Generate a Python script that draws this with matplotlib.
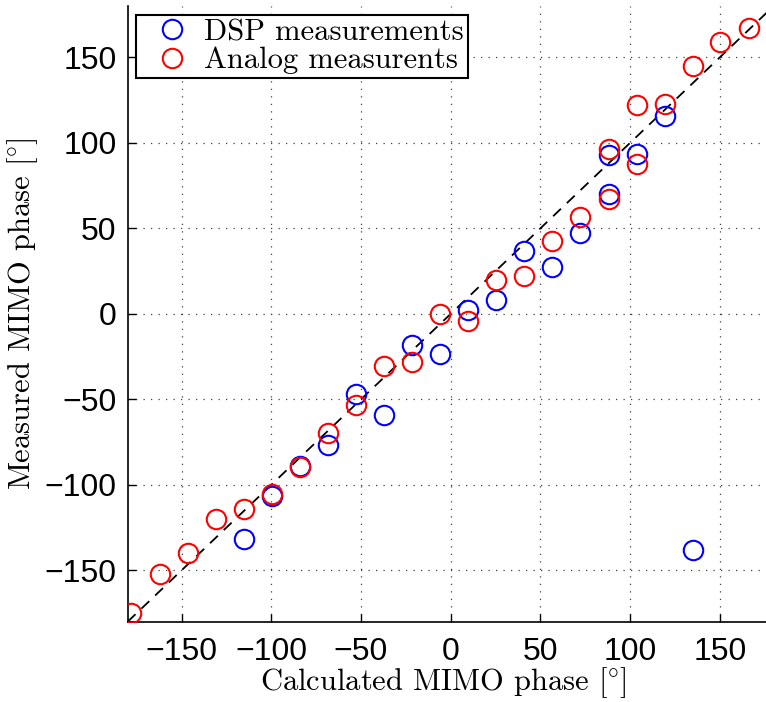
import matplotlib
matplotlib.use("Agg")
import matplotlib.pyplot as plt

# Calculated vs measured MIMO phase (degrees)
dsp_calc = [-115.3, -99.8, -83.9, -68.3, -52.7, -37.1, -21.5, -5.9, 9.7, 25.3,
            40.9, 56.5, 72.0, 88.0, 88.0, 103.6, 119.2, 135.0]
dsp_meas = [-131.9, -106.6, -89.1, -76.8, -47.1, -59.2, -18.3, -23.4, 2.2, 8.0,
            36.5, 27.5, 47.0, 69.8, 92.8, 93.4, 115.8, -138.2]

analog_calc = [-178.0, -162.2, -146.6, -131.0, -115.3, -99.8, -83.9, -68.3, -52.7,
               -37.1, -21.5, -5.9, 9.7, 25.3, 40.9, 56.5, 72.0, 88.0, 88.0,
               103.6, 103.6, 119.2, 135.0, 150.3, 166.1]
analog_meas = [-174.8, -152.4, -140.1, -120.0, -114.2, -105.4, -89.6, -69.9, -53.4,
               -30.2, -28.1, 0.0, -4.1, 19.9, 21.9, 42.7, 56.7, 66.9, 96.3,
               87.9, 121.9, 123.0, 145.0, 159.1, 166.9]

ref_line = [-180, 180]
ticks = [-150, -100, -50, 0, 50, 100, 150]

plt.rcParams['mathtext.fontset'] = 'cm'
plt.rcParams['axes.unicode_minus'] = True

fig = plt.figure(figsize=(7.66, 7.02), dpi=100)
ax = fig.add_axes([0.1667, 0.1144, 0.8433, 0.877])

ax.plot(ref_line, ref_line, linestyle=(0, (6, 4.5)), color='black', linewidth=1.3, zorder=2)
ax.plot(dsp_calc, dsp_meas, 'o', markerfacecolor='none', markeredgecolor='blue',
        markersize=14, markeredgewidth=1.5, label='DSP measurements', zorder=3)
ax.plot(analog_calc, analog_meas, 'o', markerfacecolor='none', markeredgecolor='red',
        markersize=14, markeredgewidth=1.5, label='Analog measurents', zorder=4)

ax.set_xlim(-180, 180)
ax.set_ylim(-180, 180)
ax.set_xticks(ticks)
ax.set_yticks(ticks)

ax.grid(True, linestyle=(0, (1, 5)), color='0.25', linewidth=0.9)
ax.spines['top'].set_visible(False)
ax.spines['right'].set_visible(False)
ax.spines['left'].set_linewidth(1.2)
ax.spines['bottom'].set_linewidth(1.2)
ax.tick_params(direction='in', length=6, width=1.0)
ax.tick_params(axis='x', pad=11)
ax.tick_params(axis='y', pad=8)
for lab in ax.get_xticklabels() + ax.get_yticklabels():
    lab.set_fontfamily('Liberation Sans')
    lab.set_fontsize(23)

ax.set_xlabel(r'Calculated MIMO phase [$\!^\circ\!$]', fontfamily='cmr10', fontsize=22)
ax.set_ylabel(r'Measured MIMO phase [$\!^\circ\!$]', fontfamily='cmr10', fontsize=22)
ax.xaxis.set_label_coords(0.4882, -0.071)
ax.yaxis.set_label_coords(-0.136, 0.5)

leg = ax.legend(loc='upper left', bbox_to_anchor=(0.0129, 0.9854), borderaxespad=0,
                fancybox=False, edgecolor='black', framealpha=1,
                prop={'family': 'cmr10', 'size': 22}, handletextpad=0.02,
                borderpad=0.12, labelspacing=0.02, handlelength=2.1)
leg.get_frame().set_linewidth(1.5)

plt.savefig('out.png', dpi=100)
